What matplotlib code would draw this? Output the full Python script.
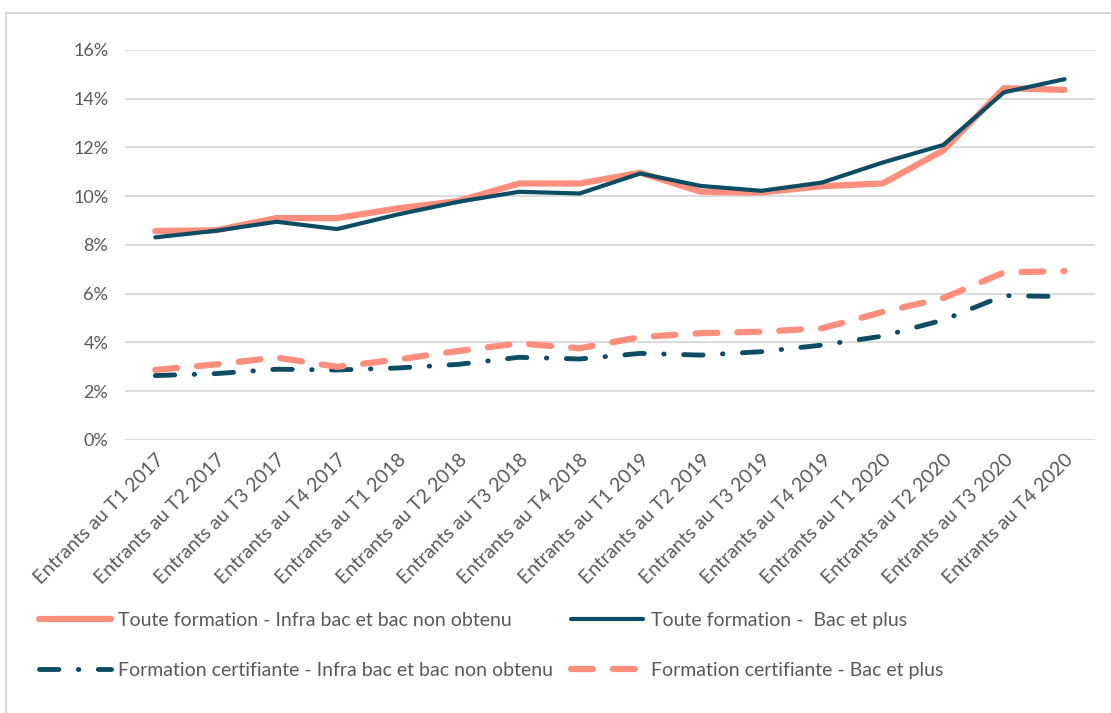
import matplotlib.pyplot as plt
from matplotlib.patches import Rectangle
from matplotlib.ticker import PercentFormatter

plt.rcParams['font.family'] = ['Lato', 'DejaVu Sans']

# Quarterly cohorts of entrants
trimestres = [f"Entrants au T{t} {a}" for a in (2017, 2018, 2019, 2020) for t in (1, 2, 3, 4)]

# Share of entrants (%) per cohort
toute_infra = [8.57, 8.6, 9.1, 9.1, 9.5, 9.8, 10.52, 10.52, 10.96, 10.18, 10.15, 10.41, 10.52, 11.88, 14.43, 14.36]
toute_bac = [8.31, 8.58, 8.95, 8.65, 9.25, 9.77, 10.18, 10.11, 10.93, 10.42, 10.22, 10.56, 11.38, 12.1, 14.26, 14.8]
certif_infra = [2.64, 2.72, 2.9, 2.87, 2.95, 3.1, 3.39, 3.32, 3.55, 3.48, 3.62, 3.89, 4.26, 4.92, 5.92, 5.88]
certif_bac = [2.87, 3.1, 3.38, 3.0, 3.3, 3.65, 3.96, 3.76, 4.22, 4.38, 4.44, 4.58, 5.25, 5.82, 6.87, 6.93]

saumon = '#FF8E7C'
marine = '#0C4D63'

fig = plt.figure(figsize=(11.11, 7.13), dpi=100)
ax = fig.add_axes([0.1125, 0.383, 0.873, 0.547])

x = range(len(trimestres))
l1, = ax.plot(x, toute_infra, color=saumon, lw=4.5, solid_capstyle='round',
              label='Toute formation - Infra bac et bac non obtenu')
l2, = ax.plot(x, toute_bac, color=marine, lw=3, solid_capstyle='round',
              label='Toute formation -  Bac et plus')
l3, = ax.plot(x, certif_infra, color=marine, lw=3.5, dashes=(4, 4, 0.1, 4),
              dash_capstyle='round', label='Formation certifiante - Infra bac et bac non obtenu')
l4, = ax.plot(x, certif_bac, color=saumon, lw=4.5, dashes=(3.5, 3.2),
              dash_capstyle='round', label='Formation certifiante - Bac et plus')

ax.set_xlim(-0.5, len(trimestres) - 0.5)
ax.set_ylim(0, 16)
ax.set_yticks(range(0, 17, 2))
ax.yaxis.set_major_formatter(PercentFormatter(decimals=0))
ax.set_xticks(list(x))
ax.set_xticklabels(trimestres, rotation=45, ha='right', rotation_mode='anchor')
ax.tick_params(axis='y', length=0, labelsize=13, colors='#595959', pad=12)
ax.tick_params(axis='x', length=0, labelsize=14, colors='#595959', pad=8)
ax.grid(axis='y', color='#D9D9D9', lw=1.3)
ax.set_axisbelow(True)
for s in ax.spines.values():
    s.set_visible(False)

# legend fills column by column: order handles so rows read left to right
fig.legend([l1, l3, l2, l4], [h.get_label() for h in (l1, l3, l2, l4)],
           loc='center left', bbox_to_anchor=(0.019, 0.095), ncol=2, frameon=False,
           fontsize=14, handlelength=3.7, handletextpad=0.4, columnspacing=0.9,
           labelspacing=1.7, labelcolor='#595959')

fig.patches.append(Rectangle((0.005, -0.01), 1.1, 0.992, transform=fig.transFigure,
                             fill=False, edgecolor='#D9D9D9', lw=1.5))

fig.savefig('out.png', dpi=100)
